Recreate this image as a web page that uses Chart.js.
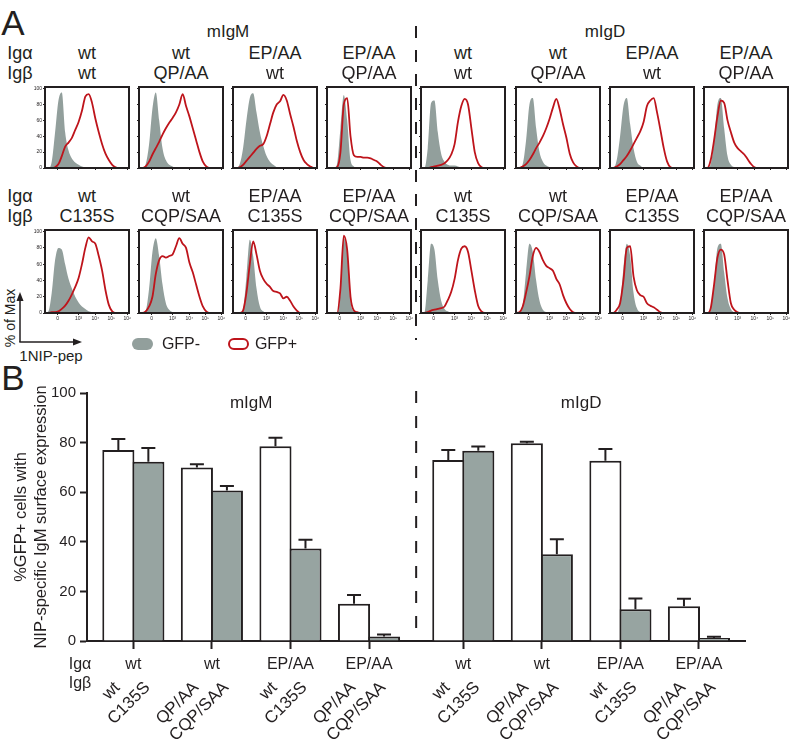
<!DOCTYPE html>
<html>
<head>
<meta charset="utf-8">
<script src="https://cdn.jsdelivr.net/npm/chart.js@4.4.1/dist/chart.umd.min.js"></script>
<style>
  body { margin: 0; background: #fff; }
  #page { position: relative; width: 793px; height: 744px; overflow: hidden;
          font-family: "Liberation Sans", Arial, Helvetica, sans-serif; color: #231f20; }
  canvas { position: absolute; }
  .t { position: absolute; transform: translate(-50%, -50%); white-space: nowrap; line-height: 1; }
</style>
</head>
<body>
<div id="page">
  <svg width="793" height="744" style="position:absolute;left:0;top:0">
    <line x1="416" y1="26" x2="416" y2="340" stroke="#231f20" stroke-width="2" stroke-dasharray="12 12"/>
    <line x1="20" y1="342" x2="20" y2="300" stroke="#231f20" stroke-width="1.5"/>
    <polygon points="20,292 16.5,301 23.5,301" fill="#231f20"/>
    <line x1="19.3" y1="342" x2="74" y2="342" stroke="#231f20" stroke-width="1.5"/>
    <polygon points="82,342 73,338.5 73,345.5" fill="#231f20"/>
  </svg>
</div>
<script>
const FONT = '"Liberation Sans", Arial, Helvetica, sans-serif';
const INK = '#231f20';
const GREY = '#929f9c';
const BAR_GREY = '#97a4a1';
const RED = '#be141b';

// mutant combinations, same order in A and B
const isotypes = ['mIgM', 'mIgD'];
const igaLabels = ['wt', 'wt', 'EP/AA', 'EP/AA'];
const igbTop = ['wt', 'QP/AA', 'wt', 'QP/AA'];
const igbBottom = ['C135S', 'CQP/SAA', 'C135S', 'CQP/SAA'];

// A: histograms, x = biexponential channel (0-100), y = % of max
const channels = [0, 4, 8, 12, 16, 20, 24, 28, 32, 36, 40, 44, 48, 52, 56, 60, 64, 68, 72, 76, 80, 84, 88, 92, 96, 100];
const histTickValues = [15, 40, 60, 79, 98];
const histTickLabels = ['0', '10³', '10⁴', '10⁵', '10⁶'];
const pctTicks = [0, 20, 40, 60, 80, 100];

// rows 0-3 = top row, 4-7 = bottom row
const gfpNegIgM = [
  [0,0,8,45,85, 95,45,22,12,7, 4,2,1,0,0, 0,0,0,0,0, 0,0,0,0,0, 0],
  [0,0,5,30,75, 95,60,25,10,4, 2,0,0,0,0, 0,0,0,0,0, 0,0,0,0,0, 0],
  [0,0,5,25,60, 88,94,70,45,28, 15,8,4,1,0, 0,0,0,0,0, 0,0,0,0,0, 0],
  [0,0,0,5,50, 92,60,10,2,0, 0,0,0,0,0, 0,0,0,0,0, 0,0,0,0,0, 0],
  [0,2,25,65,80, 78,60,42,30,20, 13,8,5,2,1, 0,0,0,0,0, 0,0,0,0,0, 0],
  [0,0,3,30,75, 92,70,35,12,4, 1,0,0,0,0, 0,0,0,0,0, 0,0,0,0,0, 0],
  [0,0,0,5,45, 90,70,30,8,2, 0,0,0,0,0, 0,0,0,0,0, 0,0,0,0,0, 0],
  [0,0,0,0,25, 92,75,15,2,0, 0,0,0,0,0, 0,0,0,0,0, 0,0,0,0,0, 0]
];
const gfpPosIgM = [
  [0,0,0,1,5, 15,27,32,38,48, 58,72,90,93,82, 62,45,30,18,10, 4,1,0,0,0, 0],
  [0,0,2,8,17, 25,33,42,50,57, 63,70,80,93,78, 65,50,35,20,8, 2,0,0,0,0, 0],
  [0,0,1,4,9, 14,19,24,28,30, 40,55,70,80,84, 92,85,68,52,34, 20,10,5,2,0, 0],
  [0,0,0,1,20, 80,88,40,16,14, 14,13,13,12,10, 8,4,1,0,0, 0,0,0,0,0, 0],
  [0,0,1,1,2, 5,9,15,23,32, 43,60,80,93,88, 85,70,52,28,10, 2,0,0,0,0, 0],
  [0,0,2,8,20, 48,65,70,68,70, 72,82,92,85,80, 62,50,35,20,8, 2,0,0,0,0, 0],
  [0,0,0,3,25, 60,88,72,52,42, 36,32,27,26,24, 18,20,15,8,3, 0,0,0,0,0, 0],
  [0,0,0,0,30, 95,78,20,3,1, 0,0,0,0,0, 0,0,0,0,0, 0,0,0,0,0, 0]
];
const gfpNegIgD = [
  [0,0,25,82,85, 45,18,8,4,3, 3,2,1,0,0, 0,0,0,0,0, 0,0,0,0,0, 0],
  [0,0,5,35,80, 88,50,20,8,3, 1,0,0,0,0, 0,0,0,0,0, 0,0,0,0,0, 0],
  [0,0,10,40,78, 88,55,25,8,3, 0,0,0,0,0, 0,0,0,0,0, 0,0,0,0,0, 0],
  [0,0,5,35,80, 88,50,15,4,1, 0,0,0,0,0, 0,0,0,0,0, 0,0,0,0,0, 0],
  [0,0,40,85,78, 40,15,5,2,0, 0,0,0,0,0, 0,0,0,0,0, 0,0,0,0,0, 0],
  [0,0,10,50,85, 75,40,15,4,1, 0,0,0,0,0, 0,0,0,0,0, 0,0,0,0,0, 0],
  [0,0,0,12,55, 85,70,25,6,1, 0,0,0,0,0, 0,0,0,0,0, 0,0,0,0,0, 0],
  [0,0,5,35,80, 85,50,18,5,1, 0,0,0,0,0, 0,0,0,0,0, 0,0,0,0,0, 0]
];
const gfpPosIgD = [
  [0,0,0,1,2, 3,4,6,10,17, 30,58,78,87,80, 50,20,6,1,0, 0,0,0,0,0, 0],
  [0,0,2,5,10, 17,25,32,40,50, 62,76,87,74,55, 38,18,7,2,0, 0,0,0,0,0, 0],
  [0,0,2,5,10, 15,22,30,38,46, 58,78,85,88,70, 48,25,8,1,0, 0,0,0,0,0, 0],
  [0,0,10,35,65, 85,82,60,45,32, 25,21,17,11,5, 1,0,0,0,0, 0,0,0,0,0, 0],
  [0,0,1,3,4, 5,6,8,16,26, 42,65,79,82,75, 52,28,9,2,0, 0,0,0,0,0, 0],
  [0,1,8,25,45, 70,80,75,65,58, 55,52,42,35,22, 12,5,1,0,0, 0,0,0,0,0, 0],
  [0,0,4,12,40, 80,82,45,28,22, 20,12,9,7,4, 1,0,0,0,0, 0,0,0,0,0, 0],
  [0,0,6,35,68, 78,72,40,12,4, 1,0,0,0,0, 0,0,0,0,0, 0,0,0,0,0, 0]
];

// B: % GFP+ cells with NIP-specific IgM surface expression (mean + error)
const groupIga = ['wt', 'wt', 'EP/AA', 'EP/AA', 'wt', 'wt', 'EP/AA', 'EP/AA'];
const igbOpen = ['wt', 'QP/AA', 'wt', 'QP/AA', 'wt', 'QP/AA', 'wt', 'QP/AA'];
const igbFilled = ['C135S', 'CQP/SAA', 'C135S', 'CQP/SAA', 'C135S', 'CQP/SAA', 'C135S', 'CQP/SAA'];
const openValues = [77, 70, 78.5, 15, 73, 79.7, 72.7, 14];
const openErrors = [4.5, 1.3, 3.5, 3.5, 4, 0.6, 4.7, 3];
const filledValues = [72.3, 60.7, 37.3, 1.8, 76.7, 35, 12.8, 1.2];
const filledErrors = [5.5, 1.8, 3.5, 0.8, 1.7, 6, 4.3, 0.5];

Chart.defaults.font.family = FONT;
Chart.defaults.color = INK;

const page = document.getElementById('page');

function addText(txt, x, y, size, extra) {
  const d = document.createElement('div');
  d.className = 't';
  d.textContent = txt;
  d.style.left = x + 'px';
  d.style.top = y + 'px';
  d.style.fontSize = size + 'px';
  if (extra) Object.assign(d.style, extra);
  page.appendChild(d);
  return d;
}

const boxPlugin = {
  id: 'box',
  afterDatasetsDraw(chart) {
    const { ctx, chartArea: a } = chart;
    ctx.save();
    ctx.strokeStyle = INK;
    ctx.lineWidth = 2;
    ctx.strokeRect(a.left, a.top, a.width, a.height);
    ctx.restore();
  }
};

function makeHist(x, y, w, h, neg, pos, showY, showX) {
  const padL = 16, padT = 3, padR = 5, padB = 10;
  const cv = document.createElement('canvas');
  cv.width = w + padL + padR;
  cv.height = h + padT + padB;
  cv.style.left = (x - padL) + 'px';
  cv.style.top = (y - padT) + 'px';
  page.appendChild(cv);

  new Chart(cv, {
    type: 'line',
    data: {
      datasets: [
        {
          label: 'GFP+',
          data: channels.map((c, i) => ({ x: c, y: pos[i] })),
          borderColor: RED, borderWidth: 1.8, fill: false,
          pointRadius: 0, cubicInterpolationMode: 'monotone', order: 0
        },
        {
          label: 'GFP-',
          data: channels.map((c, i) => ({ x: c, y: neg[i] })),
          borderWidth: 0, borderColor: GREY, backgroundColor: GREY, fill: 'origin',
          pointRadius: 0, cubicInterpolationMode: 'monotone', order: 1
        }
      ]
    },
    options: {
      responsive: false, animation: false, devicePixelRatio: 1,
      layout: { padding: { top: padT, right: padR, left: 0, bottom: 0 } },
      plugins: { legend: { display: false }, tooltip: { enabled: false } },
      scales: {
        x: {
          type: 'linear', min: 0, max: 100,
          afterFit: s => { s.height = padB; },
          afterBuildTicks: s => { s.ticks = histTickValues.map(v => ({ value: v })); },
          border: { display: false },
          grid: { drawOnChartArea: false, tickLength: 2, tickColor: INK, tickWidth: 1 },
          ticks: {
            autoSkip: false, maxRotation: 0, padding: 1,
            font: { size: 5 }, color: showX ? INK : 'rgba(0,0,0,0)',
            callback: (v, i) => histTickLabels[i]
          }
        },
        y: {
          min: 0, max: 102,
          afterFit: s => { s.width = padL; },
          afterBuildTicks: s => { s.ticks = pctTicks.map(v => ({ value: v })); },
          border: { display: false },
          grid: { drawOnChartArea: false, tickLength: 2, tickColor: INK, tickWidth: 1 },
          ticks: {
            autoSkip: false, padding: 1,
            font: { size: 5 }, color: showY ? INK : 'rgba(0,0,0,0)'
          }
        }
      }
    },
    plugins: [boxPlugin]
  });
}

// ---------- panel A ----------
addText('A', 13, 22, 35);
addText('B', 13, 377, 35);

const histLeft = [[45, 139, 233, 327], [421, 516, 610, 704]];
const histTop = [86, 229];
const histH = [82, 84];
const histW = 84;
const negSets = [gfpNegIgM, gfpNegIgD];
const posSets = [gfpPosIgM, gfpPosIgD];

isotypes.forEach((iso, k) => {
  const lefts = histLeft[k];
  addText(iso, (lefts[1] + lefts[2] + histW) / 2, 31, 17);
  [igbTop, igbBottom].forEach((igb, r) => {
    const top = histTop[r];
    if (k === 0) {
      addText('Igα', 20, top - 33, 18);
      addText('Igβ', 20, top - 13, 18);
    }
    lefts.forEach((left, c) => {
      const cx = left + histW / 2;
      addText(igaLabels[c], cx, top - 33, 18);
      addText(igb[c], cx, top - 13, 18);
      makeHist(left, top, histW, histH[r], negSets[k][r * 4 + c], posSets[k][r * 4 + c], c === 0 && k === 0, r === 1);
    });
  });
});

// axis key and legend
addText('% of Max', 10, 318, 14, { transform: 'translate(-50%,-50%) rotate(-90deg)' });
addText('1NIP-pep', 51, 355, 15);
const keyNeg = document.createElement('div');
Object.assign(keyNeg.style, { position: 'absolute', left: '132px', top: '338px', width: '21px', height: '12px',
  borderRadius: '6px', background: GREY });
page.appendChild(keyNeg);
const keyPos = document.createElement('div');
Object.assign(keyPos.style, { position: 'absolute', left: '228px', top: '338px', width: '21px', height: '12px',
  borderRadius: '6px', border: '2px solid ' + RED, boxSizing: 'border-box' });
page.appendChild(keyPos);
addText('GFP-', 181, 344, 16);
addText('GFP+', 276, 344, 16);

// ---------- panel B ----------
const bTop = 360;
const bCanvas = document.createElement('canvas');
bCanvas.width = 793;
bCanvas.height = 384;
bCanvas.style.left = '0px';
bCanvas.style.top = bTop + 'px';
page.appendChild(bCanvas);

// mIgD groups sit a little further right, past the divider
const groupX = groupIga.map((_, i) => i + (i >= 4 ? 0.2 : 0));
const errorSets = [openErrors, filledErrors];
const bLabelSets = [igbOpen, igbFilled];

const barExtras = {
  id: 'barExtras',
  afterDatasetsDraw(chart) {
    const { ctx, scales: { x, y }, chartArea: a } = chart;
    ctx.save();
    ctx.strokeStyle = INK;
    ctx.lineWidth = 2;
    chart.data.datasets.forEach((ds, di) => {
      chart.getDatasetMeta(di).data.forEach((bar, i) => {
        const top = y.getPixelForValue(ds.data[i].y + errorSets[di][i]);
        ctx.beginPath();
        ctx.moveTo(bar.x, bar.y);
        ctx.lineTo(bar.x, top);
        ctx.moveTo(bar.x - 7, top);
        ctx.lineTo(bar.x + 7, top);
        ctx.stroke();
      });
    });
    // divider between mIgM and mIgD
    const divX = (x.getPixelForValue(groupX[3]) + x.getPixelForValue(groupX[4])) / 2;
    ctx.setLineDash([12, 13]);
    ctx.beginPath();
    ctx.moveTo(divX, a.top - 2);
    ctx.lineTo(divX, a.bottom);
    ctx.stroke();
    ctx.restore();
  },
  afterDraw(chart) {
    const { ctx, scales: { x } } = chart;
    ctx.save();
    ctx.fillStyle = INK;
    ctx.textBaseline = 'middle';
    ctx.textAlign = 'center';
    ctx.font = '17px ' + FONT;
    isotypes.forEach((iso, k) => {
      const mid = (x.getPixelForValue(groupX[k * 4 + 1]) + x.getPixelForValue(groupX[k * 4 + 2])) / 2;
      ctx.fillText(iso, mid, 403 - bTop);
    });
    ctx.font = '16px ' + FONT;
    ctx.fillText('Igα', 80, 665 - bTop);
    ctx.fillText('Igβ', 80, 684 - bTop);
    groupIga.forEach((lab, i) => ctx.fillText(lab, x.getPixelForValue(groupX[i]), 665 - bTop));
    ctx.textAlign = 'right';
    ctx.font = '17px ' + FONT;
    chart.data.datasets.forEach((ds, di) => {
      chart.getDatasetMeta(di).data.forEach((bar, i) => {
        ctx.save();
        ctx.translate(bar.x - 1, 685 - bTop);
        ctx.rotate(-Math.PI / 4);
        ctx.fillText(bLabelSets[di][i], 0, 0);
        ctx.restore();
      });
    });
    ctx.restore();
  }
};

new Chart(bCanvas, {
  type: 'bar',
  data: {
    datasets: [
      {
        label: 'Igβ wt / QP/AA',
        data: groupX.map((gx, i) => ({ x: gx, y: openValues[i] })),
        backgroundColor: '#ffffff', borderColor: INK, borderWidth: 2, borderSkipped: 'start',
        barPercentage: 1.07, categoryPercentage: 0.764
      },
      {
        label: 'Igβ C135S / CQP/SAA',
        data: groupX.map((gx, i) => ({ x: gx, y: filledValues[i] })),
        backgroundColor: BAR_GREY, borderColor: INK, borderWidth: 2, borderSkipped: 'start',
        barPercentage: 1.07, categoryPercentage: 0.764
      }
    ]
  },
  options: {
    responsive: false, animation: false, devicePixelRatio: 1,
    layout: { padding: { top: 33, right: 48, left: 0, bottom: 0 } },
    plugins: { legend: { display: false }, tooltip: { enabled: false } },
    scales: {
      x: {
        type: 'linear', min: -0.59, max: 7.786, offset: false,
        afterFit: s => { s.height = 103; },
        afterBuildTicks: s => { s.ticks = groupX.map(v => ({ value: v })); },
        border: { display: true, width: 2, color: INK },
        grid: { offset: false, drawOnChartArea: false, tickLength: 8, tickWidth: 2, tickColor: INK },
        ticks: { autoSkip: false, maxRotation: 0, callback: () => '' }
      },
      y: {
        min: 0, max: 100,
        afterFit: s => { s.width = 87; },
        border: { display: true, width: 2, color: INK },
        grid: { drawOnChartArea: false, tickLength: 7, tickWidth: 2, tickColor: INK },
        ticks: { stepSize: 20, padding: 4, font: { size: 15 }, color: INK },
        title: {
          display: true,
          text: ['%GFP+ cells with', 'NIP-specific IgM surface expression'],
          font: { size: 16.5, lineHeight: 1.2 },
          color: INK,
          padding: { top: 12, bottom: 0 }
        }
      }
    }
  },
  plugins: [barExtras]
});
</script>
</body>
</html>
